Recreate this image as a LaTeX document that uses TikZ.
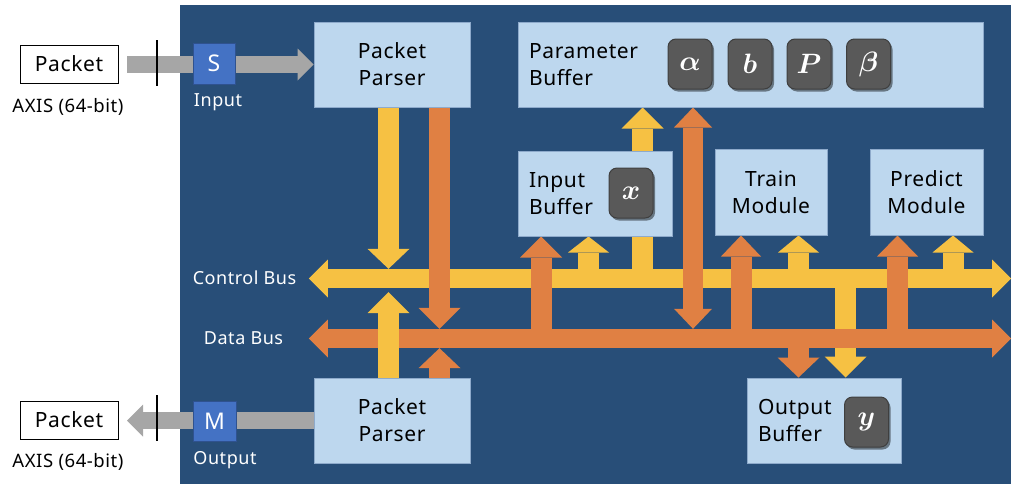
\RequirePackage{fix-cm}
\documentclass[tikz,border=0pt]{standalone}
\usepackage{fontspec}
\setmainfont{Noto Sans}[LetterSpace=3]
\usepackage{bm}
\usetikzlibrary{arrows.meta,shadows,backgrounds,calc}
\definecolor{bgblue}{HTML}{284E78}
\definecolor{boxfill}{HTML}{BDD7EE}
\definecolor{boxline}{HTML}{8EAACB}
\definecolor{ycol}{HTML}{F6C143}
\definecolor{ocol}{HTML}{E08043}
\definecolor{gcol}{HTML}{A6A6A6}
\definecolor{sblue}{HTML}{4472C4}
\definecolor{sline}{HTML}{2F528F}
\definecolor{tokfill}{HTML}{595959}
\definecolor{tokline}{HTML}{3F3F3F}
\tikzset{
  box/.style={draw=boxline, line width=1pt, fill=boxfill, inner sep=0pt,
    align=center, font=\fontsize{21}{27}\selectfont},
  lbox/.style={box, align=left, inner xsep=11pt, minimum height=85pt},
  tok/.style={rounded corners=8pt, fill=tokfill, draw=tokline, line width=1pt,
    minimum width=44pt, minimum height=50pt, inner sep=0pt, text=white,
    font=\fontsize{28}{28}\selectfont,
    drop shadow={shadow xshift=2pt, shadow yshift=-2.5pt, opacity=0.45, fill=black}},
  sm/.style={fill=sblue, draw=sline, line width=1pt, text=white, inner sep=0pt,
    font=\fontsize{23}{23}\selectfont},
  wlbl/.style={text=white, inner sep=0pt, font=\fontsize{18}{18}\selectfont},
  pkt/.style={draw=black, line width=1pt, fill=white, minimum width=98pt,
    minimum height=38pt, inner sep=0pt, font=\fontsize{21}{21}\selectfont},
  axis/.style={inner sep=0pt, font=\fontsize{18.5}{18.5}\selectfont},
  ybar/.style={draw=ycol, line width=21pt},
  obar/.style={draw=ocol, line width=21pt},
  bus/.style={line width=19pt},
  gbar/.style={draw=gcol, line width=17pt, -{Triangle[width=32pt,length=16pt,line width=0pt]}},
  th/.style 2 args={-{Triangle[width=#1pt,length=#2pt,line width=0pt]}},
  tt/.style 2 args={{Triangle[width=#1pt,length=#2pt,line width=0pt]}-{Triangle[width=#1pt,length=#2pt,line width=0pt]}},
}
\begin{document}
\begin{tikzpicture}[x=1pt,y=-1pt]
\useasboundingbox (0,0) rectangle (1011,485);
% boxes
\node[box, minimum width=156pt, minimum height=85pt] (pp1) at (392,64.5) {Packet\\Parser};
\node[lbox, text width=443pt] (par) at (750.5,64.5) {Parameter\\Buffer};
\node[lbox, text width=132pt] (inb) at (595,193.5) {Input\\Buffer};
\node[box, minimum width=112pt, minimum height=86pt] (trn) at (771,192) {Train\\Module};
\node[box, minimum width=113pt, minimum height=86pt] (prd) at (926.5,192) {Predict\\Module};
\node[lbox, text width=132pt] (outb) at (824,420.5) {Output\\Buffer};
\node[box, minimum width=156pt, minimum height=85pt] (pp2) at (392,420.5) {Packet\\Parser};
% tokens
\node[tok] (ta) at (690,64) {$\bm{\alpha}$};
\node[tok] (tb) at (750,64) {$\bm{b}$};
\node[tok] (tp) at (809,64) {$\bm{P}$};
\node[tok] (tbe) at (868.5,64) {$\bm{\beta}$};
\node[tok] (tx) at (631,193) {$\bm{x}$};
\node[tok] (ty) at (866.5,422) {$\bm{y}$};
% left side
\node[pkt] (pk1) at (69,64) {Packet};
\node[axis] (ax1) at (68,107) {AXIS (64-bit)};
\node[pkt] (pk2) at (69,420) {Packet};
\node[axis] (ax2) at (68,462) {AXIS (64-bit)};
\node[sm, minimum width=42pt, minimum height=41pt] (S) at (214,63.5) {S};
\node[sm, minimum width=43pt, minimum height=40pt] (M) at (214.5,421) {M};
\node[wlbl] (inl) at (218,102) {Input};
\node[wlbl] (outl) at (225,460) {Output};
\node[wlbl] (cbl) at (244.5,278) {Control Bus};
\node[wlbl] (dbl) at (243.5,338) {Data Bus};
% bus placeholders
\node[inner sep=0pt, minimum width=702pt, minimum height=19pt] (cbus) at (660,278.5) {};
\node[inner sep=0pt, minimum width=702pt, minimum height=19pt] (dbus) at (660,338.5) {};
% columns
\coordinate (cG) at (127,0);
\coordinate (cY1) at (388.5,0);
\coordinate (cO1) at (439.5,0);
\coordinate (cO3) at (541,0);
\coordinate (cY3) at (588.5,0);
\coordinate (cY4) at (642.5,0);
\coordinate (cO4) at (693,0);
\coordinate (cO5) at (741,0);
\coordinate (cY5) at (798.5,0);
\coordinate (cO6) at (897.5,0);
\coordinate (cY6) at (953,0);
\coordinate (cY7) at (845.5,0);
\coordinate (cO7) at (798.5,0);
\coordinate (l1t) at (157,40);
\coordinate (l1b) at (157,86);
\coordinate (l2t) at (157,395);
\coordinate (l2b) at (157,441);
\draw[line width=1.3pt] (l1t) -- (l1b);
\draw[line width=1.3pt] (l2t) -- (l2b);
\begin{scope}[on background layer]
  \fill[bgblue] (180,5) rectangle (1011,484);
  \draw[gbar] (cG |- pp1.west) -- (pp1.west);
  \draw[gbar] (pp2.west) -- (cG |- pp2.west);
  % control bus
  \draw[bus, draw=ycol, tt={38}{19}] (cbus.west) -- (cbus.east);
  \draw[ybar, th={42}{21}] (cY7 |- cbus.center) -- (cY7 |- outb.north);
  % data bus
  \draw[bus, draw=ocol, tt={38}{19}] (dbus.west) -- (dbus.east);
  \draw[obar, th={42}{21}] (cO1 |- pp1.south) -- (cO1 |- dbus.north);
  \draw[obar, th={42}{20}] (cO1 |- pp2.north) -- (cO1 |- dbus.south);
  \draw[obar, th={42}{21}] (cO3 |- dbus.center) -- (cO3 |- inb.south);
  \draw[obar, line width=20pt, tt={38}{20}] (cO4 |- par.south) -- (cO4 |- dbus.north);
  \draw[obar, th={40}{21}] (cO5 |- dbus.center) -- (cO5 |- trn.south);
  \draw[obar, th={41}{21}] (cO6 |- dbus.center) -- (cO6 |- prd.south);
  \draw[obar, th={42}{20}] (cO7 |- dbus.center) -- (cO7 |- outb.north);
  % yellow verticals
  \draw[ybar, th={42}{20}] (cY1 |- pp1.south) -- (cY1 |- cbus.north);
  \draw[ybar, th={42}{21}] (cY1 |- pp2.north) -- ($(cY1 |- cbus.south)+(0,4)$);
  \draw[ybar, th={41}{16}] (cY3 |- cbus.center) -- (cY3 |- inb.south);
  \draw[ybar, th={42}{21}] (cY4 |- cbus.center) -- (cY4 |- par.south);
  \draw[ybar, th={41}{17}] (cY5 |- cbus.center) -- (cY5 |- trn.south);
  \draw[ybar, th={41}{17}] (cY6 |- cbus.center) -- (cY6 |- prd.south);
\end{scope}
\end{tikzpicture}
\end{document}
